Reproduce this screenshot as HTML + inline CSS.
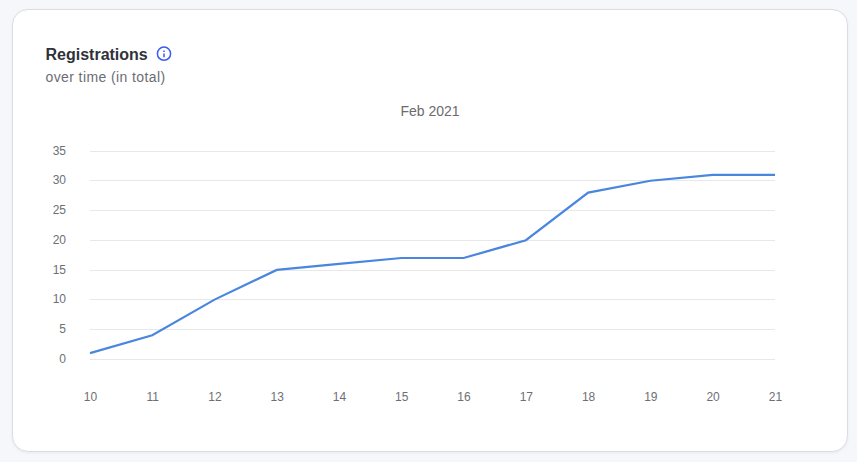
<!DOCTYPE html>
<html><head><meta charset="utf-8"><style>
html,body{margin:0;padding:0;width:857px;height:462px;overflow:hidden;background:#f6f7fb;font-family:"Liberation Sans",sans-serif;}
.card{position:absolute;left:12px;top:9px;width:834px;height:441px;background:#fff;border:1px solid #dadde4;border-radius:16px;box-shadow:0 1px 3px rgba(20,30,60,0.06);}
.title{position:absolute;left:45.5px;top:46px;font-size:16px;font-weight:bold;color:#2f3239;line-height:17px;white-space:nowrap;}
.sub{position:absolute;left:45.5px;top:69px;font-size:14px;color:#6b6d73;letter-spacing:0.4px;line-height:16px;white-space:nowrap;}
svg{position:absolute;left:0;top:0;}
</style></head><body>
<div class="card"></div>
<div class="title">Registrations</div>
<div class="sub">over time (in total)</div>
<svg width="857" height="462" viewBox="0 0 857 462" font-family="Liberation Sans, sans-serif">
<g fill="none" stroke="#3a5af0" stroke-width="1.5">
<circle cx="164" cy="53.7" r="6.6"/>
<line x1="164" y1="53.4" x2="164" y2="57.2"/>
</g>
<rect x="163.25" y="50.5" width="1.5" height="1.5" fill="#3a5af0"/>
<text x="430" y="115.7" text-anchor="middle" font-size="14" fill="#6a6b6f">Feb 2021</text>
<g fill="#e8e8e8" shape-rendering="crispEdges">
<rect x="90" y="151" width="685" height="1"/>
<rect x="90" y="180" width="685" height="1"/>
<rect x="90" y="210" width="685" height="1"/>
<rect x="90" y="240" width="685" height="1"/>
<rect x="90" y="270" width="685" height="1"/>
<rect x="90" y="299" width="685" height="1"/>
<rect x="90" y="329" width="685" height="1"/>
<rect x="90" y="359" width="685" height="1"/>
</g>
<g font-size="12" fill="#6c6f76" text-anchor="end">
<text x="66" y="362.80">0</text>
<text x="66" y="332.80">5</text>
<text x="66" y="302.80">10</text>
<text x="66" y="273.80">15</text>
<text x="66" y="243.80">20</text>
<text x="66" y="213.80">25</text>
<text x="66" y="183.80">30</text>
<text x="66" y="154.80">35</text>
</g>
<g font-size="12" fill="#6c6f76" text-anchor="middle">
<text x="90.40" y="401">10</text>
<text x="152.67" y="401">11</text>
<text x="214.95" y="401">12</text>
<text x="277.22" y="401">13</text>
<text x="339.49" y="401">14</text>
<text x="401.76" y="401">15</text>
<text x="464.04" y="401">16</text>
<text x="526.31" y="401">17</text>
<text x="588.58" y="401">18</text>
<text x="650.85" y="401">19</text>
<text x="713.13" y="401">20</text>
<text x="775.40" y="401">21</text>
</g>
<polyline points="90.00,353.11 152.27,335.28 214.55,299.62 276.82,269.91 339.09,263.96 401.36,258.02 463.64,258.02 525.91,240.19 588.18,192.65 650.45,180.76 712.73,174.82 775.00,174.82" fill="none" stroke="#4a86de" stroke-width="2.2" stroke-linejoin="miter"/>
</svg>
</body></html>
